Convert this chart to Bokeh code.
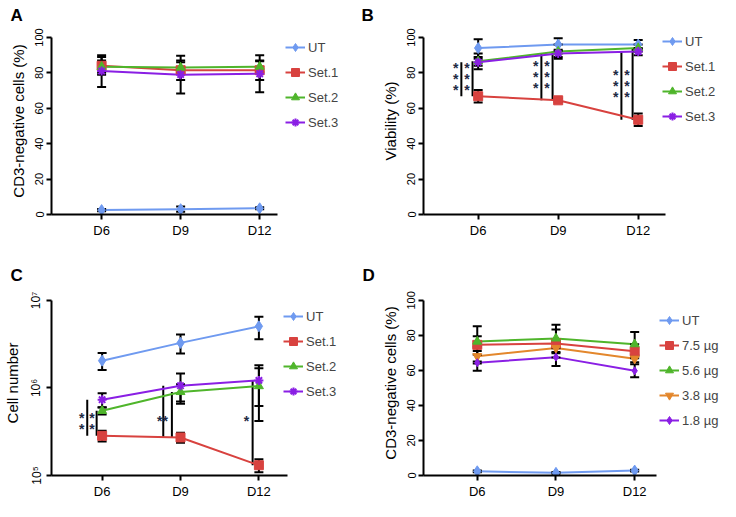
import math
from bokeh.plotting import figure
from bokeh.models import Legend, LegendItem, FixedTicker
from bokeh.layouts import gridplot
from bokeh.embed import file_html
from bokeh.resources import INLINE
from bokeh.core.properties import value

# ---------------- data ----------------
days = ["D6", "D9", "D12"]
xi = [0, 1, 2]

# Panel A: CD3-negative cells (%)
a_ut = [2.5, 3.0, 3.5];      a_ut_sd = [0.6, 1.5, 0.6]
a_s1 = [84.0, 81.5, 81.5];   a_s1_sd = [5.0, 5.5, 5.5]
a_s2 = [83.5, 83.0, 83.5];   a_s2_sd = [3.5, 3.0, 3.0]
a_s3 = [81.0, 79.0, 79.5];   a_s3_sd = [9.0, 10.7, 10.5]

# Panel B: Viability (%)
b_ut = [94.0, 96.0, 96.0];   b_ut_sd = [5.0, 3.5, 2.5]
b_s1 = [66.8, 64.5, 53.5];   b_s1_sd = [3.5, 1.0, 3.5]
b_s2 = [86.5, 92.0, 94.0];   b_s2_sd = [4.5, 4.0, 2.0]
b_s3 = [86.0, 91.0, 92.0];   b_s3_sd = [2.0, 2.0, 2.0]
b_stars = ["***", "***", "***"]

# Panel C: Cell number
c_ut = [2.05e6, 3.27e6, 5.06e6]; c_ut_sd = [0.45e6, 0.8e6, 1.45e6]
c_s1 = [2.84e5, 2.72e5, 1.31e5]; c_s1_sd = [0.4e5, 0.36e5, 0.22e5]
c_s2 = [5.48e5, 9.0e5, 1.05e6];  c_s2_sd = [0.5e5, 0.2e6, 0.63e6]
c_s3 = [7.35e5, 1.06e6, 1.22e6]; c_s3_sd = [1.35e5, 0.4e6, 0.6e6]
c_stars = ["**", "**", "*"]

# Panel D: CD3-negative cells (%) by dose
d_ut = [2.4, 1.5, 2.8];      d_ut_sd = [0.5, 0.5, 0.5]
d_75 = [74.6, 75.4, 70.9];   d_75_sd = [10.6, 8.0, 4.0]
d_56 = [76.5, 78.3, 75.0];   d_56_sd = [3.0, 7.8, 7.0]
d_38 = [68.1, 72.8, 66.7];   d_38_sd = [3.0, 3.0, 2.0]
d_18 = [64.4, 67.6, 59.8];   d_18_sd = [4.6, 5.0, 3.7]

pct_ticks = [0, 20, 40, 60, 80, 100]
log_ticks = [1e5, 1e6, 1e7]
log_tick_labels = ["10⁵", "10⁶", "10⁷"]

# ---------------- style ----------------
FONT = "Liberation Sans"
C_UT = "#6f9af0"
C_S1 = "#d8423f"
C_S2 = "#4fb52b"
C_S3 = "#8a1fe4"
C_38 = "#e3872c"
C_STAR = "#1f2a44"
W = 360
H_TOP, H_BOT = 248, 253
EXT = 10  # px of free frame above the y-axis top


def make_fig(letter, ylabel, xb, yb, left, axis_top, axis_w, axis_h, H, title_gap,
             right=0, y_type="linear"):
    fw = W - left - right
    ppu = axis_w / (xb[1] - xb[0])
    x_end = xb[0] + fw / ppu
    if y_type == "log":
        l0, l1 = math.log10(yb[0]), math.log10(yb[1])
        y_end = 10 ** (l1 + EXT * (l1 - l0) / axis_h)
    else:
        y_end = yb[1] + EXT * (yb[1] - yb[0]) / axis_h
    top = axis_top - EXT
    p = figure(width=W, height=H, x_range=(xb[0], x_end), y_range=(yb[0], y_end), y_axis_type=y_type,
               output_backend="svg", toolbar_location=None,
               min_border_left=left, min_border_top=top,
               min_border_right=right, min_border_bottom=H - axis_top - axis_h)
    p.grid.visible = False
    p.outline_line_color = None
    p.background_fill_color = "white"
    p.border_fill_color = "white"
    for ax in (p.xaxis[0], p.yaxis[0]):
        ax.axis_line_width = 2
        ax.axis_line_color = "black"
        ax.major_tick_line_width = 2
        ax.major_tick_line_color = "black"
        ax.major_tick_out = 5
        ax.major_tick_in = 0
        ax.minor_tick_line_color = None
        ax.major_label_text_font = FONT
        ax.major_label_text_color = "black"
        ax.major_label_standoff = 3
    p.xaxis.bounds = xb
    p.yaxis.bounds = yb
    p.xaxis.ticker = FixedTicker(ticks=xi)
    p.xaxis.major_label_overrides = {i: d for i, d in zip(xi, days)}
    p.xaxis.major_label_text_font_size = "13px"
    p.yaxis.major_label_text_font_size = "11px"
    p.yaxis.major_label_orientation = "vertical"
    p.yaxis.axis_label = ylabel
    p.yaxis.axis_label_text_font = FONT
    p.yaxis.axis_label_text_font_size = "15px"
    p.yaxis.axis_label_text_font_style = "normal"
    p.yaxis.axis_label_text_color = "black"
    p.yaxis.axis_label_standoff = 6
    p.title.text = letter
    p.title.align = "left"
    p.title.offset = -(left - 1)
    p.title.text_font = FONT
    p.title.text_font_size = "17px"
    p.title.text_font_style = "bold"
    p.title.text_color = "black"
    p.title.standoff = title_gap
    return p


def add_series(p, ys, sds, color, marker, size):
    lo = [y - s for y, s in zip(ys, sds)]
    hi = [y + s for y, s in zip(ys, sds)]
    ln = p.line(xi, ys, line_color=color, line_width=2)
    return ln, (lo, hi, ys, color, marker, size)


def finish_series(p, pending):
    for ln, (lo, hi, ys, color, marker, size) in pending:
        p.segment(x0=xi, y0=lo, x1=xi, y1=hi, line_color="black", line_width=2)
        p.scatter(xi, lo, marker="dash", size=9, line_color="black", line_width=2)
        p.scatter(xi, hi, marker="dash", size=9, line_color="black", line_width=2)
    markers = []
    for ln, (lo, hi, ys, color, marker, size) in pending:
        lw = 2 if marker in ("asterisk", "x") else 1
        mk = p.scatter(xi, ys, marker=marker, size=size, fill_color=color, line_color=color, line_width=lw)
        markers.append(mk)
    return markers


def add_legend(p, labels, lines, markers, axis_w, axis_h, dx, top_off):
    items = [LegendItem(label=l, renderers=[ln, mk]) for l, ln, mk in zip(labels, lines, markers)]
    n = len(items)
    lh = n * 20 + (n - 1) * 5
    leg = Legend(items=items, location=(axis_w + dx, axis_h - top_off - lh),
                 glyph_width=20, glyph_height=20, label_height=20, spacing=5,
                 padding=0, margin=0, label_standoff=3,
                 label_text_font=FONT, label_text_font_size="13px",
                 border_line_color=None, background_fill_alpha=0)
    p.add_layout(leg)


def stars_text(p, xs, ys, txt, vertical=True):
    t = "\n".join(txt) if vertical else txt
    p.text(xs, ys, text=[t] * len(xs), text_font=value(FONT), text_font_size="14px",
           text_font_style="bold", text_color=C_STAR, text_align="center",
           text_baseline="middle", text_line_height=0.68)


series_names = ["UT", "Set.1", "Set.2", "Set.3"]

# ---------------- Panel A ----------------
wA, hA = 233, 178
pA = make_fig("A", "CD3-negative cells (%)", (-0.634, 2.23), (0, 100), 42, 36, wA, hA, H_TOP, 6, right=2)
pA.yaxis.ticker = FixedTicker(ticks=pct_ticks)
pend = [add_series(pA, a_ut, a_ut_sd, C_UT, "diamond", 11),
        add_series(pA, a_s1, a_s1_sd, C_S1, "square", 9),
        add_series(pA, a_s2, a_s2_sd, C_S2, "triangle", 9),
        add_series(pA, a_s3, a_s3_sd, C_S3, "asterisk", 9)]
mks = finish_series(pA, pend)
add_legend(pA, series_names, [q[0] for q in pend], mks, wA, hA, 1, 1)

# ---------------- Panel B ----------------
wB, hB = 242, 178
pB = make_fig("B", "Viability (%)", (-0.683, 2.341), (0, 100), 63, 36, wB, hB, H_TOP, 6)
pB.yaxis.ticker = FixedTicker(ticks=pct_ticks)
# significance bars (drawn from the series values)
pB.segment(x0=[i - 0.21 for i in xi], y0=b_s1, x1=[i - 0.21 for i in xi], y1=b_s3,
           line_color="black", line_width=2)
pB.segment(x0=[i - 0.07 for i in xi], y0=b_s1, x1=[i - 0.07 for i in xi], y1=b_s2,
           line_color="black", line_width=2)
mid_b = [(a + b) / 2 for a, b in zip(b_s1, b_s3)]
stars_text(pB, [i - 0.28 for i in xi], mid_b, b_stars[0])
stars_text(pB, [i - 0.14 for i in xi], mid_b, b_stars[0])
pend = [add_series(pB, b_ut, b_ut_sd, C_UT, "diamond", 11),
        add_series(pB, b_s1, b_s1_sd, C_S1, "square", 9),
        add_series(pB, b_s2, b_s2_sd, C_S2, "triangle", 9),
        add_series(pB, b_s3, b_s3_sd, C_S3, "asterisk", 9)]
mks = finish_series(pB, pend)
add_legend(pB, series_names, [q[0] for q in pend], mks, wB, hB, -3, -5)

# ---------------- Panel C ----------------
wC, hC = 243, 177
pC = make_fig("C", "Cell number", (-0.646, 2.366), (1e5, 1e7), 42, 52, wC, hC, H_BOT, 11,
              right=2, y_type="log")
pC.yaxis.ticker = FixedTicker(ticks=log_ticks)
pC.yaxis.major_label_overrides = {t: l for t, l in zip(log_ticks, log_tick_labels)}
pC.yaxis.major_label_text_font_size = "12px"
# significance bars
pC.segment(x0=[0 - 0.19, 1 - 0.22, 2 - 0.08], y0=c_s1, x1=[0 - 0.19, 1 - 0.22, 2 - 0.08], y1=c_s3,
           line_color="black", line_width=2)
pC.segment(x0=[0 - 0.07, 1 - 0.11], y0=c_s1[:2], x1=[0 - 0.07, 1 - 0.11], y1=c_s2[:2],
           line_color="black", line_width=2)
mid_c = [math.sqrt(a * b) for a, b in zip(c_s1, c_s2)]
stars_text(pC, [0 - 0.26, 0 - 0.13], [mid_c[0]] * 2, c_stars[0])
stars_text(pC, [1 - 0.23], [mid_c[1] * 0.85], c_stars[1], vertical=False)
stars_text(pC, [2 - 0.16], [mid_c[1] * 0.85], c_stars[2], vertical=False)
pend = [add_series(pC, c_ut, c_ut_sd, C_UT, "diamond", 11),
        add_series(pC, c_s1, c_s1_sd, C_S1, "square", 9),
        add_series(pC, c_s2, c_s2_sd, C_S2, "triangle", 9),
        add_series(pC, c_s3, c_s3_sd, C_S3, "asterisk", 9)]
mks = finish_series(pC, pend)
add_legend(pC, series_names, [q[0] for q in pend], mks, wC, hC, -11, 8)

# ---------------- Panel D ----------------
wD, hD = 234, 177
pD = make_fig("D", "CD3-negative cells (%)", (-0.683, 2.28), (0, 100), 62, 52, wD, hD, H_BOT, 11)
pD.yaxis.ticker = FixedTicker(ticks=pct_ticks)
pend = [add_series(pD, d_ut, d_ut_sd, C_UT, "diamond", 11),
        add_series(pD, d_75, d_75_sd, C_S1, "square", 9),
        add_series(pD, d_56, d_56_sd, C_S2, "triangle", 9),
        add_series(pD, d_38, d_38_sd, C_38, "inverted_triangle", 9),
        add_series(pD, d_18, d_18_sd, C_S3, "diamond", 8)]
mks = finish_series(pD, pend)
add_legend(pD, ["UT", "7.5 µg", "5.6 µg", "3.8 µg", "1.8 µg"], [q[0] for q in pend], mks,
           wD, hD, 2, 12)

grid = gridplot([[pA, pB], [pC, pD]], toolbar_location=None)
open("out.html", "w").write(file_html(grid, INLINE))
